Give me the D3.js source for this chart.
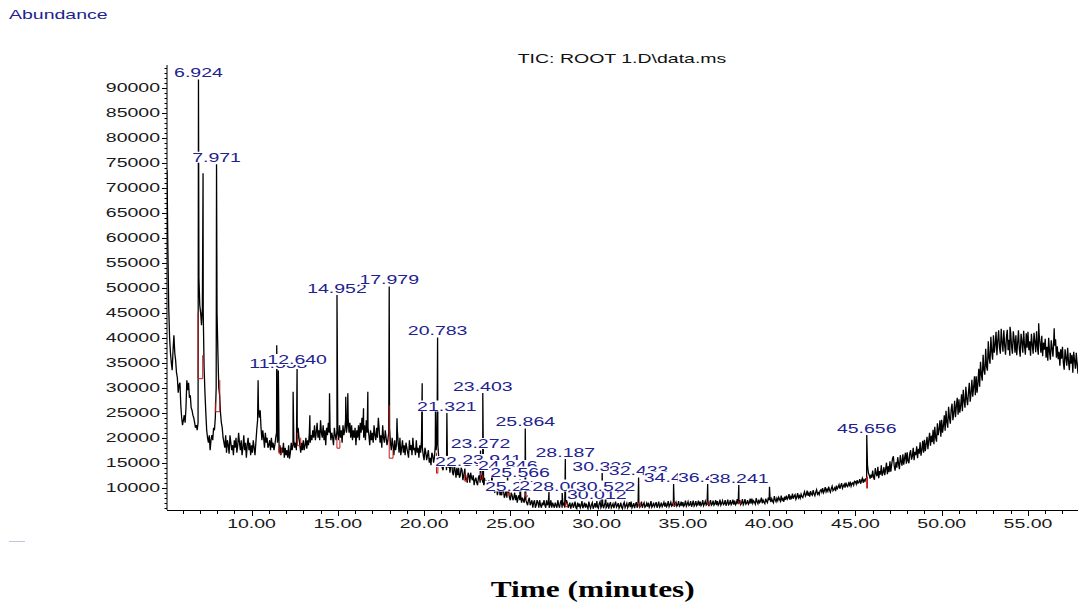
<!DOCTYPE html>
<html>
<head>
<meta charset="utf-8">
<script src="https://cdn.jsdelivr.net/npm/d3@7"></script>
<style>
  html, body { margin: 0; padding: 0; background: #fff; }
  svg { display: block; }
</style>
</head>
<body>
<svg id="chart" width="1078" height="614"></svg>
<script>
// ---- Total ion chromatogram: ROOT 1.D ----

// Scans of the TIC signal (retention time in minutes, abundance in counts)
const scanStart = 5.1;
const scanStep = 0.05;
const ticAbundance = [
  73500, 58000, 46000, 40000, 37000, 35000, 33500, 37500, 40500, 37000, 35500, 33000, 32000, 29000, 30500, 31000, 26500, 24000,
  22500, 23500, 24500, 23000, 26000, 31500, 29500, 31000, 28000, 28500, 26000, 25500, 24500, 24000, 23000, 22000, 22500, 21500, 23000, 52000,
  46500, 45000, 42500, 46000, 45000, 34000, 29000, 25000, 21500, 20000, 19000, 20500, 17500, 19500, 20500, 19500, 22000, 21500, 24000, 30000,
  45000, 37000, 30000, 28500, 25000, 23000, 22000, 20000, 19000, 18000, 20500, 17000, 19500, 18500, 16800, 20500, 19000, 17500, 18500, 16500,
  19500, 18000, 20000, 17000, 18500, 21000, 19000, 17500, 19500, 16500, 18000, 20500, 17500, 19000, 16000, 18500, 20000, 17500, 19000, 16500,
  18500, 17000, 19500, 18000, 16500, 19000, 21500, 23500, 26000, 24000, 25500, 22000, 19500, 21500, 20000, 18000, 21000, 19000, 20000, 18000,
  18500, 19500, 17500, 20000, 18000, 19000, 17500, 18500, 20000, 21000, 19000, 20500, 17000, 18500, 16500, 18000, 17000, 19000, 16000, 18000,
  16500, 17500, 16000, 18500, 15800, 17000, 19000, 17500, 18500, 19500, 18000, 19000, 17500, 18500, 22000, 20000, 18500, 17000, 19000, 17500,
  19500, 17500, 18500, 20000, 17800, 19500, 18500, 21000, 19000, 20500, 19500, 21500, 20000, 22500, 19500, 21000, 23000, 20000, 21500, 19500,
  23500, 21000, 20000, 22500, 19500, 21500, 18500, 22000, 20500, 23000, 21000, 22000, 19500, 21000, 20000, 18500, 22000, 20500, 19500, 21500,
  21000, 19500, 22500, 20000, 21500, 19000, 22500, 20500, 21500, 23500, 21000, 22500, 24000, 21000, 23000, 20000, 22500, 19500, 21500, 20000,
  22000, 18500, 21500, 20000, 22500, 19500, 23000, 21000, 24000, 21500, 20000, 22500, 19500, 23500, 21000, 22000, 20500, 18500, 21500, 19500,
  21000, 19000, 22500, 20500, 19500, 22000, 20000, 24000, 21500, 19000, 20500, 18000, 22500, 20000, 19000, 21500, 20000, 18500, 19500, 21000,
  22000, 19000, 17500, 20000, 18500, 16500, 19500, 17500, 18500, 21500, 19000, 17000, 20000, 16500, 18000, 19500, 17000, 18500, 16500, 19000,
  18000, 17000, 16000, 19500, 17500, 18500, 16500, 20000, 17500, 18000, 16500, 19500, 17000, 18000, 16000, 18500, 17000, 19500, 18000, 16500,
  15500, 18000, 17000, 15500, 16500, 17500, 15000, 16000, 14500, 17000, 16500, 15000, 16000, 18500, 17500, 20000, 18500, 16000, 14500, 15500,
  16000, 14000, 13500, 15500, 14500, 16000, 13500, 15500, 14000, 15500, 13000, 14500, 15000, 13000, 12500, 14500, 13500, 12000, 14000, 12500,
  14000, 12000, 12500, 14000, 13500, 11500, 12500, 13500, 11500, 12000, 11000, 13000, 12500, 11000, 13000, 12000, 11500, 12500, 10500, 11500,
  12000, 11000, 10500, 12000, 12500, 11000, 11500, 12500, 11000, 10500, 12000, 10500, 11500, 9500, 10500, 11500, 11000, 9500, 10000, 11000,
  10500, 9500, 9000, 10500, 10000, 8500, 9500, 10500, 8500, 9000, 8500, 10000, 9500, 8000, 8500, 9500, 8000, 9000, 9500, 8000,
  7500, 9000, 8500, 7500, 8000, 9000, 7500, 8500, 7000, 8000, 8500, 7500, 8500, 7000, 8000, 7500, 7000, 8500, 7500, 7000,
  6500, 7500, 8000, 6500, 7000, 7500, 6000, 7000, 7500, 6000, 6500, 7500, 7000, 6000, 7500, 6500, 6000, 7000, 6500, 7500,
  6500, 6000, 7500, 6500, 7000, 6000, 6500, 7500, 6000, 7000, 6500, 6000, 7000, 6500, 6000, 7500, 6500, 6000, 7000, 7500,
  6000, 6500, 7000, 6000, 6500, 7500, 7000, 6000, 6500, 7000, 5800, 6500, 7000, 6000, 6500, 7200, 6000, 5800, 7000, 6200,
  6800, 6000, 6500, 7300, 5900, 6400, 7000, 6000, 6800, 6200, 5800, 7200, 6400, 5900, 6600, 7000, 5800, 6300, 6900, 6000,
  7000, 6200, 5900, 6800, 7200, 6000, 6400, 6900, 5900, 6500, 7100, 6000, 6300, 7000, 5800, 6600, 7100, 6000, 6400, 6800,
  5900, 6600, 7200, 6100, 6400, 6900, 5900, 6300, 7000, 6100, 5800, 6700, 7100, 6000, 6400, 6900, 6000, 6500, 7100, 6100,
  7200, 6000, 6400, 6900, 5900, 6600, 7100, 6000, 6500, 7000, 6100, 6400, 7200, 6000, 6600, 7000, 6100, 6300, 6900, 6200,
  7000, 6100, 6500, 7300, 6100, 6400, 7000, 6200, 6600, 7100, 6000, 6500, 7200, 6100, 6400, 7000, 6200, 6600, 7100, 6200,
  7000, 6200, 6500, 7300, 6200, 6600, 7100, 6300, 6500, 7200, 6200, 6700, 7100, 6300, 6600, 7300, 6300, 6500, 7200, 6300,
  7100, 6300, 6600, 7400, 6300, 6700, 7200, 6400, 6600, 7300, 6200, 6700, 7400, 6300, 6600, 7300, 6400, 6700, 7400, 6400,
  7200, 6400, 6700, 7500, 6400, 6800, 7300, 6500, 6700, 7400, 6300, 6800, 7500, 6500, 6700, 7400, 6500, 6800, 7500, 6500,
  7300, 6500, 6800, 7600, 6500, 6900, 7400, 6600, 6800, 7500, 6400, 6900, 7600, 6600, 6800, 7500, 6600, 6900, 7600, 6600,
  7400, 6600, 6900, 7700, 6700, 6900, 7500, 6600, 6900, 7700, 6600, 7000, 7700, 6700, 6900, 7500, 6700, 7000, 7800, 6800,
  7800, 6900, 7400, 7100, 6700, 7900, 7200, 6800, 7600, 7000, 7300, 8000, 6900, 7500, 7100, 6800, 7800, 7300, 7000, 8000,
  7500, 8100, 7100, 7800, 7300, 7000, 8300, 7600, 7200, 7900, 7400, 8100, 7700, 7300, 8400, 7500, 7800, 7200, 8200, 7600,
  8400, 7700, 8000, 8700, 7600, 8200, 7900, 8800, 7800, 8300, 8600, 7700, 8100, 8900, 8000, 8400, 7900, 8700, 8200, 8000,
  8700, 9200, 8300, 8600, 9400, 8400, 8900, 8200, 9300, 8700, 8500, 9500, 8800, 8400, 9100, 9600, 8700, 9000, 8600, 9400,
  9600, 9100, 9900, 9000, 9400, 10100, 9200, 9700, 9300, 10200, 9500, 9100, 9800, 10300, 9400, 9700, 10000, 9300, 10400, 9800,
  10100, 10600, 9800, 10400, 10900, 9900, 10300, 10700, 10000, 11000, 10400, 10200, 10900, 10500, 11200, 10300, 10800, 11000, 10500, 11300,
  11200, 10700, 11500, 10900, 11100, 11700, 10800, 11400, 11900, 11000, 11600, 11300, 11800, 11900, 14500, 13000, 12500, 11800, 12600, 12000,
  13400, 12100, 11600, 13900, 12800, 12300, 14200, 11900, 13300, 12600, 14500, 12400, 13000, 14100, 12500, 13700, 15000, 12700, 14300, 13100,
  15300, 13200, 14600, 15800, 16300, 14300, 13400, 15100, 14000, 16100, 14800, 13700, 16500, 15200, 14400, 16700, 14600, 15900, 17000, 14800,
  17100, 15300, 14900, 16800, 17500, 15600, 16300, 18000, 15500, 17200, 16500, 18300, 15900, 17800, 16800, 19100, 16400, 17600, 19400, 17000,
  19600, 17300, 18700, 20200, 17700, 19500, 21000, 18400, 20400, 19100, 21600, 18700, 22200, 20000, 19200, 22900, 20500, 21700, 23500, 20200,
  23600, 21000, 22400, 24500, 21400, 25400, 23100, 22000, 26200, 24000, 22800, 25700, 26800, 23500, 24900, 27400, 24100, 26300, 28000, 24600,
  27700, 25000, 26400, 28700, 25300, 29600, 27300, 26000, 30200, 27800, 26500, 29000, 31000, 27200, 28800, 31600, 28200, 30100, 32300, 28500,
  32300, 29000, 31000, 33800, 30200, 35200, 32600, 31400, 36600, 33500, 32600, 37800, 34200, 33400, 39300, 35900, 34800, 40200, 37200, 35600,
  40500, 37000, 38600, 41200, 36500, 39400, 41500, 38000, 36800, 41800, 39000, 37200, 41500, 38500, 36600, 40000, 41600, 37500, 39600, 36400,
  41000, 38200, 36800, 41300, 39600, 37000, 40500, 36500, 38900, 41500, 37800, 36200, 40800, 39200, 37000, 41400, 38400, 36600, 40900, 38000,
  41200, 37500, 39300, 36400, 40800, 38600, 36800, 41000, 39200, 37100, 41300, 38000, 36600, 40700, 38800, 37000, 40400, 36300, 39000, 37600,
  39800, 36000, 38200, 35400, 40000, 37100, 35600, 39500, 37800, 36200, 40000, 38400, 39700, 36000, 38300, 35700, 37200, 34400, 37700, 35800,
  38200, 35000, 33600, 37700, 36000, 34400, 38000, 35200, 33500, 37000, 34800, 36600, 33000, 37200, 35500, 33800, 37000, 34600, 32800, 36400
];

// Integrated (labelled) peaks
const peakTimes = [6.924, 7.971, 11.553, 12.640, 14.952, 17.979, 20.783, 21.321,
  22.365, 23.272, 23.403, 23.941, 24.846, 25.252, 25.566, 25.864, 27.239, 28.003,
  28.187, 30.012, 30.322, 30.522, 32.433, 34.461, 36.437, 38.241, 45.656];
const peakLabels = ["6.924", "7.971", "11.553", "12.640", "14.952", "17.979", "20.783", "21.321",
  "22.365", "23.272", "23.403", "23.941", "24.846", "25.252", "25.566", "25.864", "27.239", "28.003",
  "28.187", "30.012", "30.322", "30.522", "32.433", "34.461", "36.437", "38.241", "45.656"];
const peakApex = [91640, 74700, 33440, 34240, 48540, 50240, 40040, 24940,
  13840, 17440, 28940, 14240, 13040, 8940, 11740, 21840, 9140, 8940,
  15740, 7340, 12940, 8940, 12040, 10740, 10740, 10540, 20540];

// Other sharp, unlabelled maxima
const spikeTimes = [7.19, 10.38, 11.46, 12.41, 13.38, 14.52, 15.46, 15.58, 16.49, 16.74,
  18.43, 19.89, 20.66, 40.02, 53.96, 55.62, 56.52];
const spikeApex = [72900, 31500, 38500, 29200, 24500, 28900, 28200, 28900, 25900, 29200,
  23900, 30880, 25500, 10200, 42200, 42900, 41900];

// Integration baselines: start, end, level, and the signal at each end
const baseStart = [6.90, 7.90, 11.60, 12.66, 14.95, 17.98, 20.72, 21.32, 22.36, 23.28,
  23.94, 24.85, 25.87, 28.19, 32.43, 34.46, 36.44, 38.24, 45.65];
const baseEnd = [7.17, 8.16, 11.75, 12.85, 15.12, 18.20, 20.80, 21.45, 22.48, 23.40,
  24.06, 24.97, 25.98, 28.30, 32.55, 34.57, 36.55, 38.35, 45.70];
const baseLevel = [31800, 25200, 16800, 18400, 17900, 15900, 12900, 14500, 11300, 11700,
  9900, 8500, 8200, 6200, 6300, 6400, 6700, 6800, 9900];
const baseCapStart = [45000, 27000, 18500, 21000, 20000, 26500, 17000, 16500, 12800, 13000,
  11000, 9500, 9000, 7200, 7000, 7000, 7200, 7400, 12200];
const baseCapEnd = [36500, 31500, 18000, 20000, 19500, 17500, 14500, 16000, 12500, 12500,
  10500, 9000, 8500, 7000, 7000, 7000, 7200, 7400, 12200];

// Axis ticks
const xTickValues = [10, 15, 20, 25, 30, 35, 40, 45, 50, 55];
const xTickLabels = ["10.00", "15.00", "20.00", "25.00", "30.00", "35.00", "40.00", "45.00", "50.00", "55.00"];
const yTickValues = [10000, 15000, 20000, 25000, 30000, 35000, 40000, 45000, 50000,
  55000, 60000, 65000, 70000, 75000, 80000, 85000, 90000];
const yTickLabels = ["10000", "15000", "20000", "25000", "30000", "35000", "40000", "45000", "50000",
  "55000", "60000", "65000", "70000", "75000", "80000", "85000", "90000"];

// ---- Drawing ----
const W = 1078, H = 614;
const plot = { left: 167, right: 1078, top: 65, bottom: 510 };
const SX = 1.5;                      // horizontal stretch of the printout lettering
const SANS = "'Liberation Sans', Arial, Helvetica, sans-serif";
const LABEL_BLUE = "#22228f";

const svg = d3.select("#chart");
svg.append("rect").attr("width", W).attr("height", H).attr("fill", "#fff");

const x = d3.scaleLinear().domain([5.1, 57.9]).range([plot.left, plot.right]);
const y = d3.scaleLinear().domain([5540, 94540]).range([plot.bottom, plot.top]);

function stretched(parent, px, py, str, opts) {
  const g = parent.append("g")
    .attr("transform", `translate(${px},${py}) scale(${opts.sx || SX},1)`);
  const t = g.append("text")
    .attr("x", 0).attr("y", 0)
    .attr("text-anchor", opts.anchor || "start")
    .attr("font-family", opts.family || SANS)
    .attr("font-size", opts.size || 13)
    .attr("font-weight", opts.weight || "normal")
    .attr("fill", opts.color || "#111")
    .text(str);
  return { g, t };
}

// Merge scans, peak apexes and spikes into a single trace
const trace = ticAbundance.map((v, i) => ({ t: scanStart + i * scanStep, v }))
  .concat(peakTimes.map((t, i) => ({ t, v: peakApex[i] })))
  .concat(spikeTimes.map((t, i) => ({ t, v: spikeApex[i] })))
  .sort((a, b) => a.t - b.t);

svg.append("defs").append("clipPath").attr("id", "plotClip")
  .append("rect")
  .attr("x", plot.left).attr("y", plot.top - 5)
  .attr("width", plot.right - plot.left).attr("height", plot.bottom - plot.top + 5);

const line = d3.line().x(d => x(d.t)).y(d => y(d.v));

svg.append("path")
  .datum(trace)
  .attr("clip-path", "url(#plotClip)")
  .attr("fill", "none")
  .attr("stroke", "#000")
  .attr("stroke-width", 1.3)
  .attr("stroke-linejoin", "miter")
  .attr("d", line);

// Integration baselines (red)
const marks = svg.append("g").attr("fill", "none").attr("stroke", "#c41c1c").attr("stroke-width", 1);
baseStart.forEach((ts, i) => {
  marks.append("path").attr("d",
    `M${x(ts)},${y(baseCapStart[i])}V${y(baseLevel[i])}H${x(baseEnd[i])}V${y(baseCapEnd[i])}`);
});

// Peak retention-time labels, each on an opaque patch
const labels = svg.append("g");
peakTimes.forEach((t, i) => {
  const s = stretched(labels, x(t), y(peakApex[i]) - 2.5, peakLabels[i],
    { anchor: "middle", color: LABEL_BLUE });
  const bb = s.t.node().getBBox();
  s.g.insert("rect", "text")
    .attr("x", bb.x).attr("y", -10)
    .attr("width", bb.width).attr("height", 11)
    .attr("fill", "#fff");
});

// Y axis
const yAxis = svg.append("g");
yAxis.append("line")
  .attr("x1", plot.left).attr("x2", plot.left)
  .attr("y1", plot.top).attr("y2", plot.bottom)
  .attr("stroke", "#000").attr("stroke-width", 1);
y.ticks(90).filter(v => v % 1000 === 0 && v >= 6000 && v <= 94000).forEach(v => {
  const major = v % 5000 === 0;
  yAxis.append("line")
    .attr("x1", plot.left - (major ? 5 : 2.5)).attr("x2", plot.left)
    .attr("y1", Math.round(y(v)) + 0.5).attr("y2", Math.round(y(v)) + 0.5)
    .attr("stroke", "#000").attr("stroke-width", 1);
});
yTickValues.forEach((v, i) => {
  stretched(yAxis, 160, y(v) + 4.6, yTickLabels[i], { anchor: "end", color: "#1a1a1a" });
});

// X axis
const xAxis = svg.append("g");
xAxis.append("line")
  .attr("x1", plot.left).attr("x2", plot.right)
  .attr("y1", plot.bottom + 0.5).attr("y2", plot.bottom + 0.5)
  .attr("stroke", "#000").attr("stroke-width", 1);
d3.range(6, 58).forEach(m => {
  const major = m % 5 === 0;
  xAxis.append("line")
    .attr("x1", Math.round(x(m)) + 0.5).attr("x2", Math.round(x(m)) + 0.5)
    .attr("y1", plot.bottom).attr("y2", plot.bottom + (major ? 6 : 4))
    .attr("stroke", "#000").attr("stroke-width", 1);
});
xTickValues.forEach((v, i) => {
  stretched(xAxis, x(v), 528, xTickLabels[i], { anchor: "middle", color: "#1a1a1a" });
});

// Header texts
stretched(svg, 9, 18.5, "Abundance", { color: LABEL_BLUE });
stretched(svg, 622, 62.5, "TIC: ROOT 1.D\\data.ms", { anchor: "middle", color: "#111" });

// Axis title
svg.append("text")
  .attr("x", 490.7).attr("y", 597)
  .attr("font-family", "'Liberation Serif', 'Times New Roman', serif")
  .attr("font-weight", "bold")
  .attr("font-size", 24)
  .attr("textLength", 204)
  .attr("lengthAdjust", "spacingAndGlyphs")
  .attr("fill", "#000")
  .text("Time (minutes)");

// Stray mark at the lower left of the printout
svg.append("line")
  .attr("x1", 9).attr("x2", 25).attr("y1", 541.5).attr("y2", 541.5)
  .attr("stroke", "#c4c4dc").attr("stroke-width", 1);
</script>
</body>
</html>
